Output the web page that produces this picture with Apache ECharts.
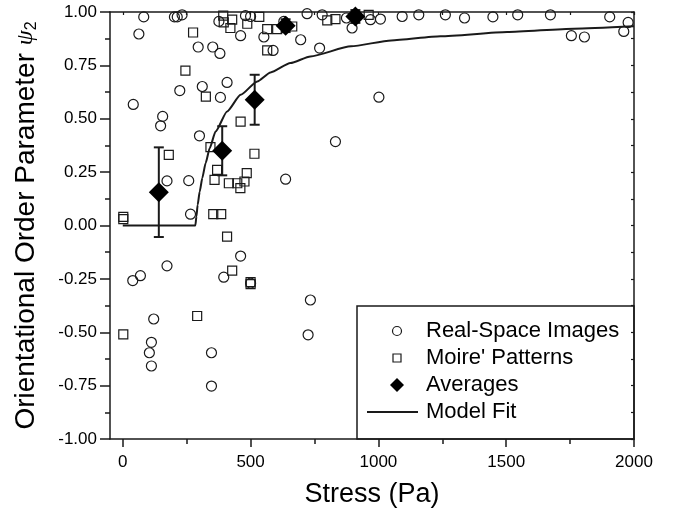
<!DOCTYPE html>
<html>
<head>
<meta charset="utf-8">
<script src="https://cdn.jsdelivr.net/npm/echarts@6/dist/echarts.min.js"></script>
<style>
  html, body {margin: 0; padding: 0; background: #fff;}
  #chart {width: 684px; height: 519px;}
</style>
</head>
<body>
<div id="chart"></div>
<script>
// values
const realSpace = [
  [82, 0.977], [63, 0.897], [202, 0.977], [213, 0.977], [232, 0.987], [295, 0.836],
  [352, 0.836], [380, 0.806], [408, 0.670], [311, 0.651], [223, 0.632], [382, 0.600],
  [41, 0.567], [156, 0.511], [148, 0.467], [376, 0.956], [480, 0.983], [500, 0.979],
  [461, 0.889], [552, 0.883], [588, 0.82], [300, 0.42], [173, 0.209], [258, 0.21],
  [265, 0.053], [696, 0.870], [770, 0.831], [721, 0.992], [780, 0.987], [630, 0.956],
  [875, 0.972], [897, 0.925], [969, 0.964], [1008, 0.967], [1093, 0.979], [1158, 0.987],
  [1262, 0.987], [1337, 0.972], [1448, 0.977], [1545, 0.987], [1673, 0.987], [1755, 0.889],
  [1806, 0.883], [1905, 0.977], [1977, 0.951], [1960, 0.909], [1002, 0.601], [832, 0.393],
  [637, 0.217], [173, -0.189], [69, -0.235], [39, -0.258], [395, -0.242], [461, -0.143],
  [121, -0.438], [112, -0.547], [104, -0.596], [112, -0.658], [347, -0.596], [347, -0.752],
  [734, -0.349], [725, -0.512], [500, -0.27]
];
const moire = [
  [2, 0.04], [2, 0.03], [275, 0.904], [245, 0.725], [325, 0.604], [461, 0.487],
  [393, 0.983], [395, 0.951], [428, 0.964], [421, 0.925], [487, 0.945], [534, 0.977],
  [565, 0.92], [604, 0.92], [565, 0.82], [663, 0.932], [800, 0.961], [832, 0.967],
  [962, 0.987], [180, 0.331], [343, 0.367], [369, 0.261], [359, 0.214], [415, 0.198],
  [448, 0.198], [460, 0.175], [476, 0.206], [485, 0.245], [515, 0.336], [354, 0.053],
  [385, 0.053], [408, -0.052], [428, -0.211], [500, -0.275], [500, -0.265], [291, -0.424],
  [2, -0.51]
];
const averages = [[141, 0.156], [389, 0.35], [516, 0.589], [637, 0.936], [910, 0.979]];
const avgErrors = [0.21, 0.115, 0.117, 0.03, 0.03];
const modelFit = [
  [0, 0], [284, 0], [288, 0.042], [293, 0.097], [301, 0.159], [311, 0.222], [324, 0.292],
  [340, 0.362], [363, 0.44], [408, 0.534], [461, 0.612], [526, 0.675], [578, 0.717],
  [656, 0.761], [734, 0.792], [893, 0.839], [1050, 0.867], [1243, 0.886], [1504, 0.906],
  [1765, 0.922], [2000, 0.933]
];
const xMajor = [0, 500, 1000, 1500, 2000];
const xMinor = [250, 750, 1250, 1750];
const xAll = [0, 250, 500, 750, 1000, 1250, 1500, 1750, 2000];
const legendNames = ['Real-Space Images', "Moire' Patterns", 'Averages', 'Model Fit'];

const FONT = 'Liberation Sans, Arial, sans-serif';
const INK = '#1a1a1a';

const chart = echarts.init(document.getElementById('chart'));

const baseX = {
  type: 'value', min: -50, max: 2000,
  splitLine: {show: false},
  axisLine: {show: false, onZero: false},
  axisTick: {show: false},
  axisLabel: {show: false}
};
const baseY = {
  type: 'value', min: -1, max: 1, interval: 0.25,
  splitLine: {show: false},
  axisLabel: {show: false}
};

// legend box drawn by hand (icons need fixed sizes)
const lgX = 357, lgY = 306, rowY = [331, 358, 385, 412];
const legendGraphic = [
  {type: 'rect', shape: {x: lgX, y: lgY, width: 277, height: 133},
    style: {fill: '#fff', stroke: INK, lineWidth: 1.5}},
  {type: 'circle', shape: {cx: 397, cy: rowY[0], r: 4.5},
    style: {fill: 'none', stroke: INK, lineWidth: 1.2}},
  {type: 'rect', shape: {x: 393, y: rowY[1] - 4, width: 8, height: 8},
    style: {fill: 'none', stroke: INK, lineWidth: 1.2}},
  {type: 'polygon', shape: {points: [[397, rowY[2] - 7], [404, rowY[2]], [397, rowY[2] + 7], [390, rowY[2]]]},
    style: {fill: '#000'}},
  {type: 'line', shape: {x1: 367, y1: rowY[3], x2: 418, y2: rowY[3]},
    style: {stroke: INK, lineWidth: 2}}
].concat(legendNames.map((n, i) => ({
  type: 'text', x: 426, y: rowY[i],
  style: {text: n, fill: '#000', font: '22px ' + FONT, textVerticalAlign: 'middle'}
})));

chart.setOption({
  animation: false,
  backgroundColor: '#fff',
  grid: {left: 110, right: 50, top: 12, bottom: 80},
  xAxis: [
    Object.assign({}, baseX, {
      position: 'bottom',
      axisLine: {show: true, onZero: false, lineStyle: {color: INK, width: 1.5}},
      axisTick: {show: true, customValues: xMajor, length: 8, lineStyle: {color: INK, width: 1.5}},
      axisLabel: {show: true, customValues: xMajor, margin: 15, fontSize: 17, color: '#000', fontFamily: FONT,
        formatter: v => String(v)},
      name: 'Stress (Pa)', nameLocation: 'middle', nameGap: 42,
      nameTextStyle: {fontSize: 27, color: '#000', fontFamily: FONT}
    }),
    Object.assign({}, baseX, {
      position: 'bottom',
      axisTick: {show: true, customValues: xMinor, length: 5, lineStyle: {color: INK, width: 1.5}}
    }),
    Object.assign({}, baseX, {
      position: 'top',
      axisLine: {show: true, onZero: false, lineStyle: {color: INK, width: 1.5}},
      axisTick: {show: true, inside: true, customValues: xAll, length: 3, lineStyle: {color: INK, width: 1.2}}
    })
  ],
  yAxis: [
    Object.assign({}, baseY, {
      position: 'left',
      axisLine: {show: true, onZero: false, lineStyle: {color: INK, width: 1.5}},
      axisTick: {show: true, length: 10, lineStyle: {color: INK, width: 1.5}},
      minorTick: {show: true, splitNumber: 2, length: 5, lineStyle: {color: INK, width: 1.5}},
      axisLabel: {
        show: true, margin: 13, fontSize: 17, color: '#000', fontFamily: FONT,
        formatter: v => v.toFixed(2)
      },
      name: '{t|Orientational Order Parameter }{p|ψ}{s|2}',
      nameLocation: 'middle', nameGap: 70, nameRotate: 90,
      nameTextStyle: {
        color: '#000',
        rich: {
          t: {fontSize: 28, fontFamily: FONT, color: '#000'},
          p: {fontSize: 24, fontFamily: 'Liberation Serif, DejaVu Serif, serif', fontStyle: 'italic', color: '#000'},
          s: {fontSize: 16, fontFamily: FONT, color: '#000', verticalAlign: 'bottom', padding: [10, 0, 0, 0]}
        }
      }
    }),
    Object.assign({}, baseY, {
      position: 'right',
      axisLine: {show: true, onZero: false, lineStyle: {color: INK, width: 1.5}},
      axisTick: {show: true, inside: true, length: 3, lineStyle: {color: INK, width: 1.2}},
      minorTick: {show: true, splitNumber: 2, length: 3, lineStyle: {color: INK, width: 1.2}}
    })
  ],
  graphic: legendGraphic,
  series: [
    {
      name: 'Real-Space Images', type: 'scatter', data: realSpace,
      symbol: 'circle', symbolSize: 10,
      itemStyle: {color: 'rgba(255,255,255,0)', borderColor: INK, borderWidth: 1.2, opacity: 1}
    },
    {
      name: "Moire' Patterns", type: 'scatter', data: moire,
      symbol: 'rect', symbolSize: 9,
      itemStyle: {color: 'rgba(255,255,255,0)', borderColor: INK, borderWidth: 1.2, opacity: 1}
    },
    {
      name: 'Model Fit', type: 'line', data: modelFit,
      symbol: 'none', smooth: 0.2, smoothMonotone: 'x',
      lineStyle: {color: INK, width: 2}, z: 3
    },
    {
      name: 'Averages', type: 'custom', z: 4,
      data: averages.map((p, i) => [p[0], p[1], avgErrors[i]]),
      renderItem(params, api) {
        const x = api.value(0), y = api.value(1), e = api.value(2);
        const top = api.coord([x, y + e]);
        const bot = api.coord([x, y - e]);
        const w = 5;
        const st = {stroke: INK, lineWidth: 2};
        return {type: 'group', children: [
          {type: 'line', shape: {x1: top[0], y1: top[1], x2: bot[0], y2: bot[1]}, style: st},
          {type: 'line', shape: {x1: top[0] - w, y1: top[1], x2: top[0] + w, y2: top[1]}, style: st},
          {type: 'line', shape: {x1: bot[0] - w, y1: bot[1], x2: bot[0] + w, y2: bot[1]}, style: st}
        ]};
      }
    },
    {
      name: 'Averages', type: 'scatter', data: averages, z: 5,
      symbol: 'diamond', symbolSize: [20, 20],
      itemStyle: {color: '#000', opacity: 1}
    }
  ]
});
</script>
</body>
</html>
